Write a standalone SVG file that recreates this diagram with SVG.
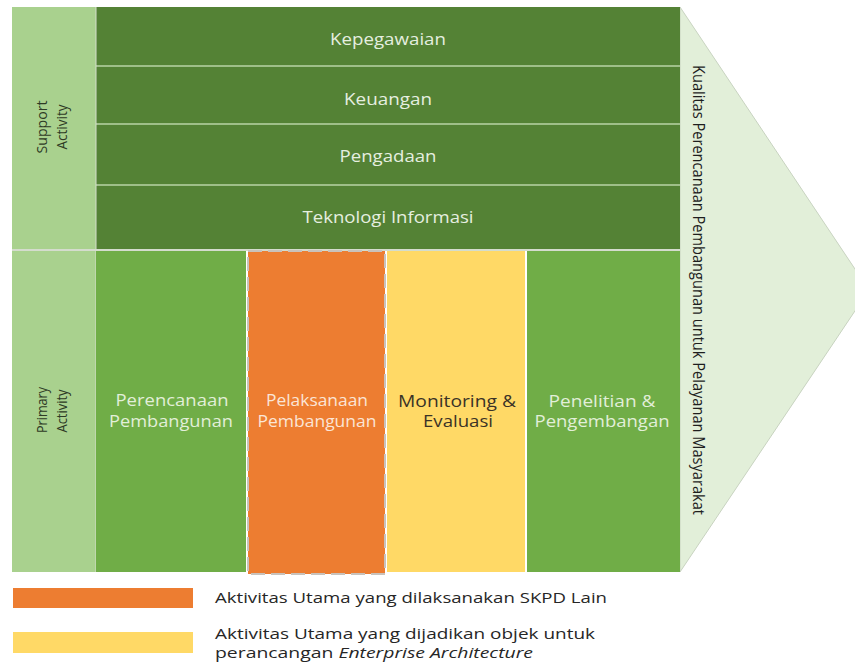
<svg xmlns="http://www.w3.org/2000/svg" width="855" height="664" viewBox="0 0 855 664">
<style>
.t{font-family:"Open Sans","Liberation Sans",sans-serif;}
.sup{fill:#548235;}
.supt{fill:#e6efe0;font-size:15.5px;text-anchor:middle;}
.side{fill:#a9d18e;}
.sidet{fill:#2e3a25;font-size:14px;text-anchor:middle;}
.pg{fill:#70ad47;}
.pt{font-size:15.5px;text-anchor:middle;}
.leg{fill:#262626;font-size:15px;}
.leg2{fill:#262626;font-size:14px;}
.div{stroke:#b9d3a6;stroke-width:1.5;}
</style>
<rect width="855" height="664" fill="#ffffff"/>
<g id="arrow">
<polygon points="680,7 869,290 680,572" fill="#e2efd9" stroke="#c8d3c0" stroke-width="1"/>
<text class="t" x="0" y="0" transform="translate(693,290) rotate(90)" font-size="15.5" fill="#1e1e1e" text-anchor="middle" textLength="450" lengthAdjust="spacingAndGlyphs">Kualitas Perencanaan Pembangunan untuk Pelayanan Masyarakat</text>
</g>
<g id="support-label">
<rect class="side" x="12" y="7" width="84" height="242"/>
<text class="t sidet" transform="translate(47,127) rotate(-90)" x="0" y="0" textLength="53" lengthAdjust="spacingAndGlyphs">Support</text>
<text class="t sidet" transform="translate(67,127) rotate(-90)" x="0" y="0" textLength="45" lengthAdjust="spacingAndGlyphs">Activity</text>
</g>
<g id="primary-label">
<rect class="side" x="12" y="251" width="84" height="321"/>
<text class="t sidet" transform="translate(47,410) rotate(-90)" x="0" y="0" textLength="46" lengthAdjust="spacingAndGlyphs">Primary</text>
<text class="t sidet" transform="translate(67,411) rotate(-90)" x="0" y="0" textLength="43" lengthAdjust="spacingAndGlyphs">Activity</text>
</g>
<g id="kepegawaian">
<rect class="sup" x="96" y="7" width="584" height="59"/>
<text class="t supt" x="388" y="45" textLength="116" lengthAdjust="spacingAndGlyphs">Kepegawaian</text>
</g>
<g id="keuangan">
<rect class="sup" x="96" y="66" width="584" height="58"/>
<text class="t supt" x="388" y="105" textLength="88" lengthAdjust="spacingAndGlyphs">Keuangan</text>
</g>
<g id="pengadaan">
<rect class="sup" x="96" y="124" width="584" height="61"/>
<text class="t supt" x="388" y="162" textLength="97" lengthAdjust="spacingAndGlyphs">Pengadaan</text>
</g>
<g id="teknologi-informasi">
<rect class="sup" x="96" y="185" width="584" height="64"/>
<text class="t supt" x="388" y="223" textLength="171" lengthAdjust="spacingAndGlyphs">Teknologi Informasi</text>
</g>
<g id="dividers">
<line class="div" x1="96" y1="66" x2="680" y2="66"/>
<line class="div" x1="96" y1="124" x2="680" y2="124"/>
<line class="div" x1="96" y1="185" x2="680" y2="185"/>
<line x1="12" y1="250" x2="680" y2="250" stroke="#d4dccd" stroke-width="2"/>
<line x1="96" y1="7" x2="96" y2="572" stroke="#d4dccd" stroke-width="1"/>
</g>
<g id="perencanaan">
<rect class="pg" x="96" y="251" width="150" height="321"/>
<text class="t pt" fill="#e2efd9" x="172" y="406" textLength="113" lengthAdjust="spacingAndGlyphs">Perencanaan</text>
<text class="t pt" fill="#e2efd9" x="171" y="427" textLength="124" lengthAdjust="spacingAndGlyphs">Pembangunan</text>
</g>
<g id="pelaksanaan">
<rect x="248" y="251" width="137" height="323" fill="#ed7d31" stroke="#c9c2bb" stroke-width="2" stroke-dasharray="14,6"/>
<text class="t pt" fill="#fbe5d6" x="317" y="406" textLength="102" lengthAdjust="spacingAndGlyphs">Pelaksanaan</text>
<text class="t pt" fill="#fbe5d6" x="317" y="427" textLength="119" lengthAdjust="spacingAndGlyphs">Pembangunan</text>
</g>
<g id="monitoring">
<rect x="387" y="251" width="138" height="321" fill="#ffd966"/>
<text class="t pt" fill="#3a3226" x="457" y="407" textLength="118" lengthAdjust="spacingAndGlyphs">Monitoring &amp;</text>
<text class="t pt" fill="#3a3226" x="458" y="427" textLength="70" lengthAdjust="spacingAndGlyphs">Evaluasi</text>
</g>
<g id="penelitian">
<rect class="pg" x="527" y="251" width="153" height="321"/>
<text class="t pt" fill="#e2efd9" x="602" y="407" textLength="107" lengthAdjust="spacingAndGlyphs">Penelitian &amp;</text>
<text class="t pt" fill="#e2efd9" x="602" y="427" textLength="135" lengthAdjust="spacingAndGlyphs">Pengembangan</text>
</g>
<g id="legend-orange">
<rect x="13" y="588" width="180" height="20" fill="#ed7d31"/>
<text class="t leg" x="215" y="603" textLength="392" lengthAdjust="spacingAndGlyphs">Aktivitas Utama yang dilaksanakan SKPD Lain</text>
</g>
<g id="legend-yellow">
<rect x="13" y="632" width="180" height="21" fill="#ffd966"/>
<text class="t leg2" x="215" y="639" textLength="380" lengthAdjust="spacingAndGlyphs">Aktivitas Utama yang dijadikan objek untuk</text>
<text class="t leg2" x="215" y="658" textLength="318" lengthAdjust="spacingAndGlyphs">perancangan <tspan font-style="italic">Enterprise Architecture</tspan></text>
</g>
</svg>
